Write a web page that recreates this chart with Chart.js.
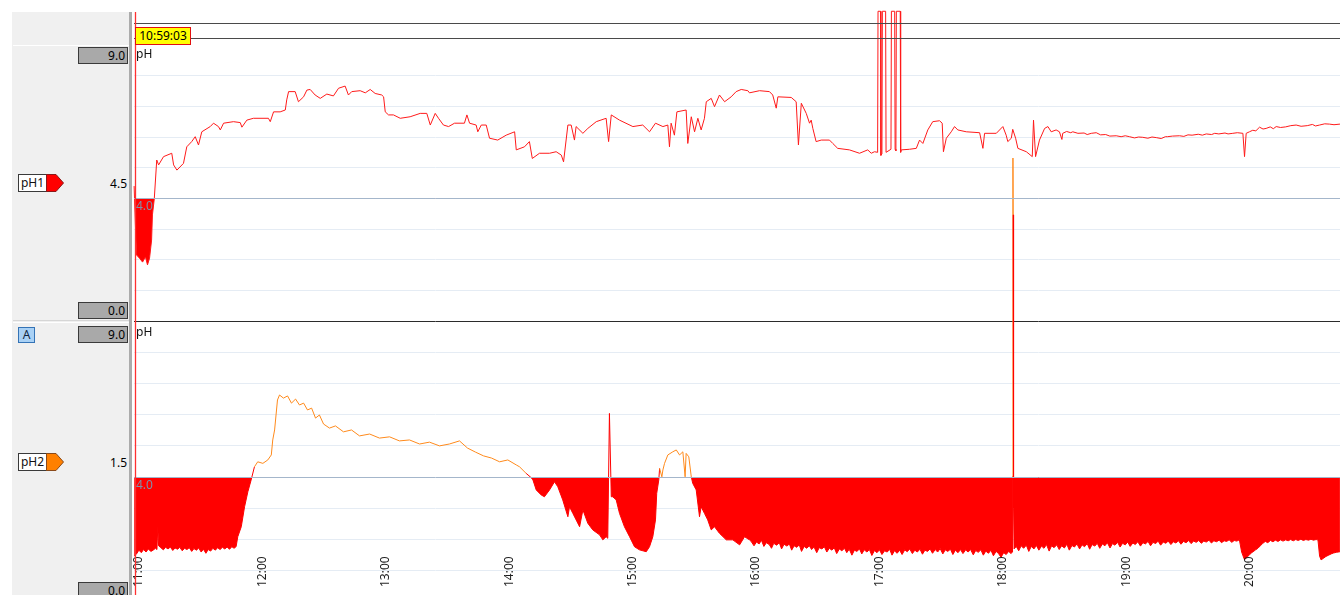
<!DOCTYPE html>
<html>
<head>
<meta charset="utf-8">
<script src="https://cdn.jsdelivr.net/npm/chart.js@4/dist/chart.umd.min.js"></script>
<style>
  html, body { margin: 0; padding: 0; background: #fff; overflow: hidden; width: 1340px; height: 595px; }
  body { position: relative; font-family: "Noto Sans", "DejaVu Sans", sans-serif; font-size: 12px; color: #111; }
  #plot { position: absolute; left: 0; top: 0; }
  .side { position: absolute; left: 12px; top: 12px; width: 118px; height: 600px; background: #f0f0f0; }
  .sep { position: absolute; left: 13px; width: 116px; height: 1px; background: #fff; }
  .sep.dark { background: #d6d6d6; }
  .bar { position: absolute; left: 129px; top: 12px; width: 3px; height: 600px; background: #ababab; }
  .vbox { position: absolute; left: 78px; width: 50px; height: 17px; box-sizing: border-box;
          background: #a9a9a9; border: 1px solid #3a3a3a; text-align: right; padding-right: 2px;
          line-height: 15px; font-size: 12px; color: #000; }
  .cur { position: absolute; left: 90px; width: 37px; text-align: right; line-height: 17px; font-size: 12px; color: #000; }
  .tag { position: absolute; left: 18px; height: 18px; }
  .tag .name { position: absolute; left: 0; top: 0; width: 29px; height: 18px; box-sizing: border-box;
               background: #fff; border: 1px solid #3a3a3a; text-align: center; line-height: 15px; font-size: 12px; }
  .tag svg { position: absolute; left: 28px; top: 0; }
  .abox { position: absolute; left: 18px; top: 327px; width: 17px; height: 16px; box-sizing: border-box;
          background: #a9d1f5; border: 1px solid #3473b6; text-align: center; line-height: 14px; font-size: 12px; color: #10263f; }
  .stamp { position: absolute; left: 135px; top: 27px; width: 56px; height: 18px; box-sizing: border-box;
           background: #ffff00; border: 1px solid #e01010; text-align: center; line-height: 16px; font-size: 12px; color: #000; }
</style>
</head>
<body>
<div class="side"></div>
<div class="sep" style="top:45px"></div>
<div class="sep dark" style="top:320px"></div>
<div class="sep" style="top:322px"></div>
<div class="bar"></div>

<div class="vbox" style="top:47px">9.0</div>
<div class="vbox" style="top:302px">0.0</div>
<div class="tag" style="top:174px"><div class="name">pH1</div>
  <svg width="20" height="18" viewBox="0 0 20 18"><polygon points="0.5,0.5 10,0.5 17.5,9 10,17.5 0.5,17.5" fill="#ff0000" stroke="#8a1a1a" stroke-width="1"/></svg></div>
<div class="cur" style="top:175px">4.5</div>

<div class="abox">A</div>
<div class="vbox" style="top:326px">9.0</div>
<div class="tag" style="top:453px"><div class="name">pH2</div>
  <svg width="20" height="18" viewBox="0 0 20 18"><polygon points="0.5,0.5 10,0.5 17.5,9 10,17.5 0.5,17.5" fill="#ff8000" stroke="#8a4a1a" stroke-width="1"/></svg></div>
<div class="cur" style="top:454px">1.5</div>
<div class="vbox" style="top:582px">0.0</div>

<canvas id="plot" width="1340" height="612"></canvas>
<div class="stamp">10:59:03</div>

<script>
// Time axis: minutes after midnight
const axisStart = 658.54;
const axisEnd = 1244.92;
const cursorTime = 10 * 60 + 59 + 3 / 60;   // 10:59:03
const hourLabels = ['11:00', '12:00', '13:00', '14:00', '15:00', '16:00', '17:00', '18:00', '19:00', '20:00'];
const alarmLevel = 4.0;

// pH1 channel (upper pane)
const ph1Times = [658.6,659.3,659.8,661.2,662.7,664.1,665.1,666.1,667.1,667.5,668.4,669.6,670.5,672.9,676.9,677.8,679.4,682.6,684.2,686.6,
  688.3,689.9,691.5,695.6,697.2,699.6,700.5,702.1,706.9,710.2,711.0,713.4,716.6,723.9,724.8,726.4,729.6,732.1,732.8,733.7,
  736.9,738.5,741.0,742.6,744.2,746.6,749.1,752.3,755.5,758.0,761.2,762.8,764.4,768.5,771.0,773.4,775.8,779.0,779.9,780.7,
  782.3,784.7,788.0,792.8,797.7,800.9,802.6,805.0,806.6,809.0,811.5,814.4,819.2,820.4,821.7,824.9,825.7,827.4,829.8,831.4,
  835.4,839.5,843.6,844.4,848.4,850.8,852.2,855.7,860.6,863.8,866.3,867.4,869.5,871.1,872.7,873.5,876.8,879.2,883.3,888.1,
  889.3,890.6,894.6,901.1,905.9,909.2,912.1,915.7,918.1,918.9,919.7,921.3,922.5,927.0,927.8,929.5,931.1,932.7,934.3,935.9,
  936.8,939.2,940.8,943.2,945.7,948.9,951.3,953.8,957.0,957.8,962.7,967.5,969.1,970.8,971.6,978.1,980.5,981.6,983.0,985.4,
  987.0,987.8,988.6,990.2,992.7,996.7,998.3,1000.7,1006.4,1011.3,1015.3,1017.0,1018.6,
  1020.1,1020.3,1021.5,1021.7,1022.2,1022.4,1024.0,1024.2,1026.6,1026.8,1028.4,1028.6,1029.0,1029.2,1031.1,1031.3,
  1031.6,1035.6,1038.9,1040.5,1042.1,1044.5,1046.9,1050.2,1051.5,1052.1,1053.5,1055.9,1057.5,1059.1,1063.2,1069.7,1071.3,1072.1,
  1077.8,1081.0,1082.6,1083.4,1085.1,1085.8,1087.2,1088.3,1092.4,1095.3,1095.9,1096.9,1098.8,1101.3,1102.9,1104.5,1106.9,1108.5,
  1109.7,1110.1,1112.0,1114.0,1115.0,1117.5,1120.5,1122.0,1124.0,1126.4,1128.5,1131.0,1133.0,1136.1,1138.5,1140.5,1142.6,1145.0,
  1147.0,1149.0,1151.5,1153.5,1155.6,1158.0,1160.0,1161.0,1163.5,1166.9,1169.0,1171.0,1173.0,1176.0,1178.0,1179.9,1182.5,1184.0,
  1186.0,1189.0,1190.5,1192.8,1195.0,1197.7,1198.5,1199.3,1200.9,1202.5,1204.0,1205.8,1207.5,1209.0,1211.0,1212.5,1213.9,1216.0,
  1218.5,1221.0,1223.6,1226.0,1229.0,1231.5,1233.0,1235.0,1237.5,1239.8,1242.0,1244.9];
const ph1Values = [4.40,2.97,2.15,2.05,1.92,2.09,1.83,2.05,2.64,3.46,3.98,5.25,5.09,5.36,5.47,5.09,4.92,5.14,5.68,5.85,
  6.01,5.74,6.17,6.34,6.45,6.34,6.23,6.45,6.50,6.47,6.32,6.55,6.61,6.61,6.50,6.82,6.82,6.88,7.21,7.48,
  7.48,7.15,7.31,7.53,7.55,7.37,7.26,7.40,7.34,7.59,7.66,7.37,7.48,7.51,7.44,7.55,7.42,7.37,7.31,6.82,
  6.72,6.72,6.61,6.66,6.77,6.77,6.39,6.77,6.61,6.39,6.34,6.45,6.45,6.72,6.45,6.39,6.17,6.39,6.39,5.96,
  5.90,6.06,6.17,5.58,5.68,5.85,5.30,5.47,5.47,5.52,5.41,5.19,6.39,6.39,5.90,6.34,6.12,6.28,6.50,6.61,
  5.85,6.72,6.55,6.34,6.39,6.17,6.45,6.34,6.39,5.68,6.45,6.06,6.82,6.88,5.79,6.66,6.17,6.61,6.23,6.61,
  7.15,7.26,6.99,7.37,7.15,7.31,7.48,7.55,7.51,7.44,7.51,7.48,7.37,6.94,7.31,7.29,7.15,5.74,7.10,6.77,
  6.45,6.55,6.28,5.85,5.90,5.90,5.79,5.63,5.58,5.47,5.58,5.47,5.52,
  5.50,10.10,10.10,5.40,5.45,10.10,10.10,5.50,5.60,10.10,10.10,5.60,5.55,10.10,10.10,5.50,
  5.58,5.60,5.63,5.90,5.79,6.23,6.50,6.53,6.45,5.52,5.96,6.17,6.34,6.23,6.17,6.14,5.63,6.12,
  6.12,6.34,6.06,5.85,5.96,6.25,5.96,5.63,5.52,5.36,6.55,5.36,5.90,6.28,6.34,6.17,6.23,6.17,
  5.92,6.12,6.18,6.14,6.17,6.12,6.13,6.08,6.12,6.14,6.07,6.08,6.03,6.04,6.01,6.04,6.01,5.97,
  6.00,5.99,5.96,6.00,5.98,5.95,6.01,6.01,6.03,6.04,6.02,6.07,6.06,6.09,6.06,6.10,6.08,6.12,
  6.10,6.13,6.10,6.12,6.14,6.12,5.36,6.12,6.17,6.22,6.20,6.32,6.26,6.28,6.33,6.27,6.34,6.31,
  6.33,6.37,6.39,6.35,6.37,6.41,6.36,6.39,6.43,6.42,6.40,6.42];

// pH2 channel (lower pane)
const ph2Times = [658.6,659.8,660.9,662.1,663.2,664.4,665.5,666.7,667.8,669.0,669.7,670.1,670.5,671.6,672.8,673.9,675.1,676.2,677.4,678.5,
  679.7,680.8,682.0,683.1,684.3,685.4,686.6,687.7,688.9,690.0,691.2,692.3,693.5,694.6,695.8,696.9,698.1,699.2,700.4,701.5,
  702.7,703.8,705.0,706.1,707.3,708.2,
  709.0,710.7,712.3,713.9,715.5,717.1,718.7,721.2,723.6,725.3,726.0,726.9,728.3,729.3,731.2,733.2,735.1,737.1,739.0,741.0,
  742.9,744.9,746.8,748.7,750.7,753.6,756.5,760.4,764.3,768.2,773.1,777.9,782.8,787.6,792.5,797.4,802.2,807.1,811.9,816.8,
  820.7,824.6,828.5,832.4,836.3,840.3,844.4,846.0,849.2,851.7,852.5,854.1,856.5,858.1,860.6,863.0,864.6,867.0,869.5,870.3,
  871.9,875.2,876.8,879.2,881.6,884.9,886.5,888.1,888.9,889.7,890.6,891.3,893.0,894.6,897.0,899.5,901.9,904.3,907.6,909.2,
  910.8,912.1,912.7,913.7,914.1,915.2,915.7,916.5,918.1,920.5,922.2,923.8,925.4,926.5,927.0,928.3,929.5,930.2,931.9,933.5,
  934.3,935.9,937.5,939.2,940.8,943.2,946.5,949.7,953.0,955.4,957.8,
  958.5,960.0,961.2,962.5,963.6,964.8,966.0,967.4,968.5,969.6,971.0,972.3,973.4,974.6,976.0,977.2,978.3,979.5,980.8,982.0,
  983.1,984.4,985.6,986.9,988.0,989.2,990.5,991.7,993.0,994.2,995.4,996.6,997.9,999.0,1000.2,1001.5,1002.7,1004.0,1005.1,1006.3,
  1007.6,1008.8,1010.0,1011.3,1012.4,1013.6,1014.9,1016.1,1017.3,1018.6,1019.8,1021.0,1022.2,1023.5,1024.7,1026.0,1027.1,1028.3,1029.6,1030.8,
  1032.0,1033.3,1034.5,1035.7,1037.0,1038.2,1039.4,1040.7,1041.9,1043.1,1044.4,1045.6,1046.8,1048.1,1049.3,1050.5,1051.8,1053.0,1054.2,1055.5,
  1056.7,1057.9,1059.2,1060.4,1061.6,1062.9,1064.1,1065.3,1066.6,1067.8,1069.0,1070.3,1071.5,1072.7,1074.0,1075.2,1076.4,1077.7,1078.9,1080.1,
  1081.4,1082.6,1083.8,1085.0,
  1085.55,1085.7,1085.9,1086.0,1086.2,1086.45,
  1087.5,1088.7,1089.9,1091.1,1092.4,1093.6,1094.8,1096.1,1097.3,1098.5,1099.8,1101.0,1102.2,1103.5,1104.7,1105.9,1107.2,1108.4,1109.6,1110.9,
  1112.1,1113.3,1114.6,1115.8,1117.0,1118.3,1119.5,1120.7,1122.0,1123.2,1124.4,1125.7,1126.9,1128.1,1129.4,1130.6,1131.8,1133.1,1134.3,1135.5,
  1136.8,1138.0,1139.2,1140.5,1141.7,1142.9,1144.2,1145.4,1146.6,1147.9,1149.1,1150.3,1151.6,1152.8,1154.0,1155.3,1156.5,1157.7,1159.0,1160.2,
  1161.4,1162.7,1163.9,1165.1,1166.4,1167.6,1168.8,1170.1,1171.3,1172.5,1173.8,1175.0,1176.2,1177.5,1178.7,1179.9,1181.2,1182.4,1183.6,1184.9,
  1186.1,1187.3,1188.6,1189.8,1191.0,1192.3,1193.5,1194.7,1196.0,1197.1,1198.5,1199.5,1200.9,1202.0,1203.9,1205.0,1206.2,1207.4,1208.6,1209.8,
  1211.1,1212.3,1213.5,1214.8,1216.0,1217.2,1218.5,1219.7,1220.9,1222.2,1223.4,1224.6,1225.9,1227.1,1228.3,1229.6,1230.8,1232.0,1233.3,1234.2,
  1235.0,1235.7,1236.9,1238.1,1239.4,1240.6,1241.8,1243.1,1244.9];
const ph2Values = [1.47,1.54,1.66,1.58,1.68,1.60,1.70,1.62,1.66,1.72,1.68,2.40,1.80,1.74,1.67,1.75,1.70,1.76,1.65,1.73,
  1.69,1.75,1.64,1.72,1.68,1.74,1.62,1.71,1.66,1.73,1.60,1.69,1.56,1.68,1.63,1.72,1.66,1.74,1.68,1.75,
  1.70,1.76,1.69,1.77,1.72,1.78,
  2.09,2.41,3.05,3.53,3.91,4.33,4.49,4.44,4.55,4.71,5.19,5.51,6.47,6.63,6.53,6.60,6.37,6.50,6.31,6.37,
  6.15,6.21,5.89,5.99,5.70,5.57,5.64,5.45,5.51,5.32,5.38,5.25,5.29,5.16,5.19,5.06,5.12,5.00,5.06,5.16,
  4.93,4.80,4.68,4.61,4.49,4.55,4.39,4.33,4.12,3.98,3.91,3.59,3.43,3.37,3.59,3.85,3.69,3.27,2.73,3.05,
  2.84,2.41,2.95,2.52,2.31,2.15,1.99,2.09,2.04,6.04,3.37,3.37,3.27,2.84,2.41,2.09,1.77,1.67,1.61,1.77,
  2.09,2.63,3.48,3.91,4.28,4.01,4.23,4.44,4.71,4.81,4.87,4.71,4.81,4.01,4.76,4.65,4.01,3.80,3.59,2.73,
  3.05,2.84,2.63,2.31,2.41,2.20,1.99,1.99,1.83,2.09,1.99,
  1.95,1.80,1.92,1.86,1.98,1.78,1.90,1.84,1.72,1.88,1.82,1.90,1.70,1.85,1.79,1.86,1.66,1.80,1.75,1.83,
  1.62,1.78,1.72,1.80,1.68,1.76,1.58,1.74,1.70,1.77,1.60,1.72,1.66,1.74,1.55,1.70,1.64,1.72,1.58,1.69,
  1.50,1.66,1.62,1.70,1.54,1.67,1.60,1.68,1.49,1.65,1.58,1.67,1.52,1.64,1.60,1.68,1.50,1.64,1.56,1.66,
  1.52,1.67,1.61,1.70,1.55,1.66,1.60,1.69,1.53,1.66,1.62,1.70,1.56,1.68,1.60,1.71,1.54,1.67,1.62,1.69,
  1.52,1.66,1.58,1.68,1.55,1.67,1.60,1.68,1.51,1.65,1.59,1.67,1.50,1.63,1.56,1.66,1.48,1.62,1.55,1.43,
  1.58,1.52,1.62,1.55,
  1.60,4.02,14.22,12.40,3.00,1.70,
  1.78,1.64,1.80,1.72,1.82,1.62,1.78,1.70,1.81,1.66,1.79,1.72,1.84,1.63,1.80,1.74,1.83,1.68,1.80,1.73,
  1.85,1.66,1.81,1.76,1.86,1.70,1.83,1.77,1.87,1.69,1.84,1.79,1.88,1.72,1.86,1.80,1.90,1.73,1.87,1.82,
  1.91,1.76,1.88,1.83,1.92,1.78,1.89,1.84,1.93,1.79,1.90,1.86,1.94,1.80,1.91,1.87,1.95,1.82,1.92,1.88,
  1.95,1.84,1.93,1.89,1.96,1.85,1.94,1.90,1.97,1.87,1.95,1.91,1.97,1.88,1.95,1.92,1.98,1.89,1.96,1.93,
  1.98,1.90,1.96,1.94,1.99,1.91,1.97,1.95,1.99,1.60,1.35,1.42,1.51,1.58,1.67,1.72,1.80,1.88,1.94,1.90,
  1.97,1.93,1.98,1.94,1.99,1.95,1.99,1.96,2.00,1.96,2.00,1.97,2.01,1.97,2.00,1.98,2.01,1.98,2.00,1.99,
  1.47,1.35,1.40,1.46,1.50,1.54,1.57,1.59,1.61];

const toPoints = (ts, vs) => ts.map((t, i) => ({ x: t, y: vs[i] }));
const hourValue = s => { const [h, m] = s.split(':').map(Number); return h * 60 + m; };
const fmtTime = v => String(Math.floor(v / 60)).padStart(2, '0') + ':' + String(Math.round(v % 60)).padStart(2, '0');

const RED = '#ff0000';
const ORANGE = '#ff8a1c';
const GRID = '#e5ecf4';
const LEVEL = '#a4b6cb';
const FONT = '12px "Noto Sans", "DejaVu Sans", sans-serif';

function gridColor(sepValue) {
  return ctx => {
    const v = ctx.tick.value;
    if (v === sepValue) return '#2b2b2b';
    if (v === 0 || v === 9 || v === alarmLevel) return 'rgba(0,0,0,0)';
    return GRID;
  };
}

const decorations = {
  id: 'decorations',
  afterDatasetsDraw(chart) {
    const { ctx, chartArea, scales } = chart;
    const x = scales.x, yTop = scales.yTop, yBot = scales.yBot;
    ctx.save();

    // alarm level lines on top of the filled areas
    ctx.strokeStyle = LEVEL;
    ctx.lineWidth = 1;
    [yTop, yBot].forEach(s => {
      const py = Math.round(s.getPixelForValue(alarmLevel)) + 0.5;
      ctx.beginPath();
      ctx.moveTo(chartArea.left, py);
      ctx.lineTo(chartArea.right, py);
      ctx.stroke();
    });

    ctx.font = FONT;
    // alarm level captions
    ctx.fillStyle = '#8090aa';
    ctx.textAlign = 'left';
    ctx.textBaseline = 'top';
    ctx.fillText(alarmLevel.toFixed(1), chartArea.left + 2, yTop.getPixelForValue(alarmLevel) + 2);
    ctx.fillText(alarmLevel.toFixed(1), chartArea.left + 2, yBot.getPixelForValue(alarmLevel) + 2);

    // unit captions
    ctx.fillStyle = '#111';
    ctx.fillText('pH', chartArea.left + 2, yTop.top + 4);
    ctx.fillText('pH', chartArea.left + 2, yBot.top + 6);

    // hour labels, written upward along the bottom of the lower pane
    ctx.fillStyle = '#1e1e1e';
    ctx.textBaseline = 'middle';
    x.ticks.forEach(t => {
      const px = x.getPixelForValue(t.value);
      ctx.save();
      ctx.translate(px + 2, 587);
      ctx.rotate(-Math.PI / 2);
      ctx.fillText(t.label, 0, 0);
      ctx.restore();
    });

    // header guide lines
    ctx.strokeStyle = '#4a4a4a';
    ctx.lineWidth = 1.2;
    [23.5, 38.5].forEach(yy => {
      ctx.beginPath();
      ctx.moveTo(chartArea.left, yy);
      ctx.lineTo(chartArea.right, yy);
      ctx.stroke();
    });

    // time cursor
    const cx = Math.round(x.getPixelForValue(cursorTime)) + 0.5;
    ctx.strokeStyle = '#ff3030';
    ctx.lineWidth = 1.3;
    ctx.beginPath();
    ctx.moveTo(cx, 12);
    ctx.lineTo(cx, chart.height);
    ctx.stroke();
    ctx.restore();
  }
};

new Chart(document.getElementById('plot'), {
  type: 'line',
  data: {
    datasets: [
      {
        label: 'pH1',
        data: toPoints(ph1Times, ph1Values),
        yAxisID: 'yTop',
        borderColor: '#ff1a1a',
        borderWidth: 1,
        pointRadius: 0,
        tension: 0,
        clip: false,
        fill: { target: { value: alarmLevel }, above: 'rgba(0,0,0,0)', below: RED }
      },
      {
        label: 'pH2',
        data: toPoints(ph2Times, ph2Values),
        yAxisID: 'yBot',
        borderColor: ORANGE,
        borderWidth: 1,
        pointRadius: 0,
        tension: 0,
        clip: false,
        segment: {
          borderColor: c => (c.p0.parsed.y < alarmLevel || c.p1.parsed.y < alarmLevel) ? RED : ORANGE
        },
        fill: { target: { value: alarmLevel }, above: 'rgba(0,0,0,0)', below: RED }
      }
    ]
  },
  options: {
    responsive: false,
    animation: false,
    events: [],
    layout: { padding: { left: 134, top: 45, right: 0, bottom: 10 } },
    plugins: { legend: { display: false }, tooltip: { enabled: false } },
    scales: {
      x: {
        type: 'linear',
        min: axisStart,
        max: axisEnd,
        afterBuildTicks: s => { s.ticks = hourLabels.map(h => ({ value: hourValue(h) })); },
        ticks: { display: false, callback: v => fmtTime(v) },
        grid: { display: false, drawTicks: false },
        border: { display: false }
      },
      yBot: {
        type: 'linear',
        position: 'left',
        stack: 'panes',
        stackWeight: 281,
        min: 0, max: 9,
        ticks: { display: false, stepSize: 1 },
        grid: { color: gridColor(-1), drawTicks: false, lineWidth: 1 },
        border: { display: false }
      },
      yTop: {
        type: 'linear',
        position: 'left',
        stack: 'panes',
        stackWeight: 276,
        min: 0, max: 9,
        ticks: { display: false, stepSize: 1 },
        grid: { color: gridColor(0), drawTicks: false, lineWidth: 1 },
        border: { display: false }
      }
    }
  },
  plugins: [decorations]
});
</script>
</body>
</html>
